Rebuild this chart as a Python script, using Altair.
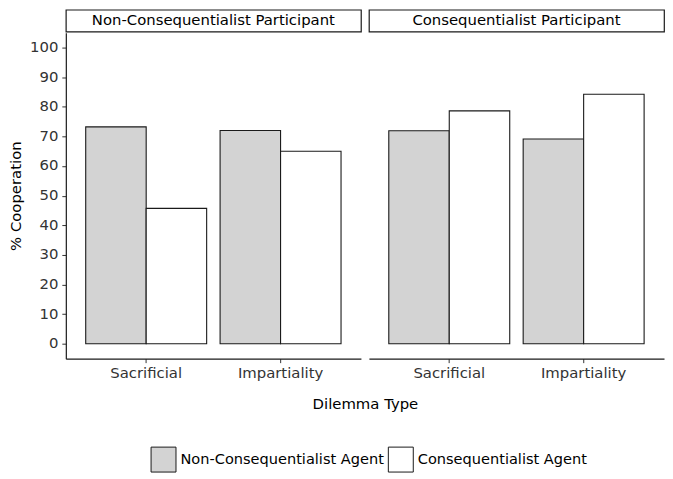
import altair as alt
import pandas as pd

participants = ["Non-Consequentialist Participant", "Consequentialist Participant"]
dilemmas = ["Sacrificial", "Impartiality"]
agents = ["Non-Consequentialist Agent", "Consequentialist Agent"]
# order: Sacrificial/NC agent, Sacrificial/C agent, Impartiality/NC agent, Impartiality/C agent
nonconseq_participant = [73.2, 45.7, 72.0, 65.0]
conseq_participant = [71.9, 78.6, 69.1, 84.2]
fills = ["#d3d3d3", "#ffffff"]
y_ticks = list(range(0, 101, 10))

rows = []
for part, vals in zip(participants, [nonconseq_participant, conseq_participant]):
    i = 0
    for d in dilemmas:
        for a in agents:
            rows.append({"participant": part, "dilemma": d, "agent": a, "value": vals[i]})
            i += 1
df = pd.DataFrame(rows)

FONT = "DejaVu Sans"
FS = 14.9
PW = 296
PH = 327
GAP = 8


def bars(part, first):
    if first:
        yaxis = alt.Axis(values=y_ticks, title="% Cooperation", grid=False,
                         domainColor="#1a1a1a", domainWidth=1.2, tickColor="#333333",
                         tickSize=4, labelPadding=4, labelFont=FONT, labelFontSize=FS,
                         labelColor="#333333", titleFont=FONT, titleFontSize=FS,
                         titleFontWeight="normal", titleColor="black", titlePadding=6)
        xtitle = dict(title="Dilemma Type", titleX=(2 * PW + GAP) / 2, titleY=38,
                      titleAlign="center", titleBaseline="top", titleFont=FONT,
                      titleFontSize=FS, titleFontWeight="normal", titleColor="black")
    else:
        yaxis = None
        xtitle = dict(title=None)
    return alt.Chart(df[df.participant == part]).mark_bar(
        stroke="#1a1a1a", strokeWidth=1.1
    ).encode(
        x=alt.X("dilemma:N", sort=dilemmas,
                scale=alt.Scale(paddingInner=0.1, paddingOuter=0.148),
                axis=alt.Axis(labelAngle=0, grid=False, domainColor="#1a1a1a",
                              domainWidth=1.2, tickColor="#333333", tickSize=4,
                              labelPadding=3, labelFont=FONT, labelFontSize=FS,
                              labelColor="#333333", **xtitle)),
        xOffset=alt.XOffset("agent:N", sort=agents,
                            scale=alt.Scale(paddingInner=0, paddingOuter=0)),
        y=alt.Y("value:Q", scale=alt.Scale(domain=[-5, 105], nice=False, zero=False), axis=yaxis),
        y2=alt.datum(0),
        fill=alt.Fill("agent:N", sort=agents, scale=alt.Scale(domain=agents, range=fills),
                      legend=alt.Legend(orient="none", legendX=85, legendY=438,
                                        direction="horizontal", title=None,
                                        symbolType="square", symbolSize=625,
                                        symbolStrokeColor="#1a1a1a", symbolStrokeWidth=1,
                                        labelFont=FONT, labelFontSize=14.6, labelColor="black",
                                        labelLimit=0, labelOffset=4, columnPadding=1)),
    ).properties(width=PW, height=PH)


def strip(part):
    return alt.Chart(pd.DataFrame({"label": [part]})).mark_text(
        font=FONT, fontSize=FS, color="black"
    ).encode(text="label:N").properties(
        width=PW, height=22,
        view=alt.ViewBackground(stroke="#1a1a1a", strokeWidth=1.2, fill="white"),
    )


strips = alt.hconcat(strip(participants[0]), strip(participants[1]), spacing=GAP, bounds="flush")
panels = alt.hconcat(bars(participants[0], True), bars(participants[1], False),
                     spacing=GAP, bounds="flush")

chart = alt.vconcat(strips, panels, spacing=0).properties(padding=0).configure_view(stroke=None)

chart.save("out.html", embed_options={"renderer": "svg", "actions": False})
